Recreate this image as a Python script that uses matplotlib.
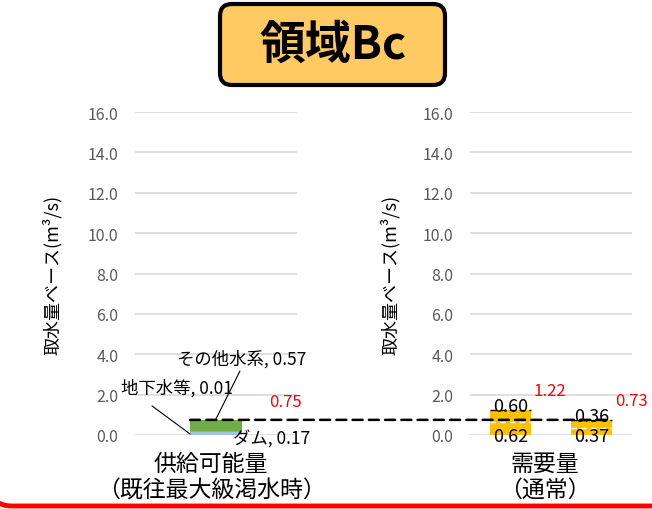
import matplotlib
matplotlib.use("Agg")
from matplotlib import pyplot as plt
from matplotlib.patches import FancyBboxPatch, ConnectionPatch

plt.rcParams["font.family"] = ["Noto Sans CJK JP", "DejaVu Sans"]

# data
supply_names = ["ダム", "地下水等", "その他水系"]
supply_values = [0.17, 0.01, 0.57]
supply_colors = ["#9DC3E6", "#A5A5A5", "#70AD47"]

demand_lower = [0.62, 0.37]
demand_upper = [0.60, 0.36]

y_ticks = [0, 2, 4, 6, 8, 10, 12, 14, 16]
y_label = "取水量ベース(m³/s)"
supply_category = "供給可能量\n（既往最大級渇水時）"
demand_category = "需要量\n（通常）"
title = "領域Bc"

W, H = 652, 510
fig = plt.figure(figsize=(W / 100, H / 100), dpi=100)


def px_axes(x0, y0, x1, y1):
    # pixel box (top-left origin) -> figure fraction axes
    return fig.add_axes([x0 / W, 1 - y1 / H, (x1 - x0) / W, (y1 - y0) / H])


def style_axis(ax):
    ax.set_ylim(0, 16)
    ax.set_yticks(y_ticks)
    ax.set_yticklabels([f"{v:.1f}" for v in y_ticks])
    ax.set_xticks([])
    ax.tick_params(axis="y", length=0, pad=12, labelsize=11.5, labelcolor="#595959")
    for s in ax.spines.values():
        s.set_visible(False)
    ax.grid(axis="y", color="#D9D9D9", linewidth=1.2)
    ax.set_axisbelow(True)
    ax.set_ylabel(y_label, fontsize=13)


ax1 = px_axes(135, 113, 297, 436)
ax2 = px_axes(470, 113, 632, 436)
style_axis(ax1)
style_axis(ax2)
ax1.yaxis.set_label_coords(-0.45, 0.5)
ax2.yaxis.set_label_coords(-0.43, 0.5)

# supply stacked bar
ax1.set_xlim(-0.5, 0.5)
bw1 = 0.32
bottom = 0
for v, c in zip(supply_values, supply_colors):
    ax1.bar(0, v, bw1, bottom=bottom, color=c, linewidth=0)
    bottom += v
supply_total = round(sum(supply_values), 2)
dam_top = supply_values[0]

# data labels with leader lines
leader = dict(arrowstyle="-", color="black", lw=0.8, shrinkA=0, shrinkB=0)
ax1.text(0.16, 3.8, f"{supply_names[2]}, {supply_values[2]:.2f}",
         ha="center", va="center", fontsize=12.5)
ax1.annotate("", xy=(0.0, supply_total + 0.05), xytext=(0.148, 3.17), arrowprops=leader)
ax1.text(-0.24, 2.35, f"{supply_names[1]}, {supply_values[1]:.2f}",
         ha="center", va="center", fontsize=12.5)
ax1.annotate("", xy=(-bw1 / 2, 0.05), xytext=(-0.395, 1.44), arrowprops=leader)
ax1.text(0.105, dam_top / 2 - 0.2, f"{supply_names[0]}, {supply_values[0]:.2f}",
         ha="left", va="center", fontsize=12.5)
ax1.annotate(f"{supply_total:.2f}", xy=(bw1 / 2, supply_total), xytext=(31, 13),
             textcoords="offset points", ha="center", va="center",
             fontsize=12, color="red")

# demand stacked bars
ax2.set_xlim(-0.5, 1.5)
bw2 = 0.5
xs = range(len(demand_lower))
ax2.bar(xs, demand_lower, bw2, color="#FFC000", linewidth=0)
ax2.bar(xs, demand_upper, bw2, bottom=demand_lower, color="#FFC000", linewidth=0)
for x, lo, up in zip(xs, demand_lower, demand_upper):
    total = round(lo + up, 2)
    ax2.hlines(lo, x - bw2 / 2, x + bw2 / 2, colors="white", linestyles=(0, (4, 3)), lw=1)
    ax2.hlines(total, x - bw2 / 2, x + bw2 / 2, colors="black", linestyles=(0, (4, 3)), lw=1)
    ax2.annotate(f"{up:.2f}", xy=(x, total), xytext=(0, 3), textcoords="offset points",
                 ha="center", va="center", fontsize=13)
    ax2.annotate(f"{lo:.2f}", xy=(x, 0), xytext=(0, -1), textcoords="offset points",
                 ha="center", va="center", fontsize=13)
    ax2.annotate(f"{total:.2f}", xy=(x + bw2 / 2, total), xytext=(14, 14),
                 textcoords="offset points", ha="center", va="center",
                 fontsize=12, color="red")

# dashed supply level across both panels
con = ConnectionPatch(xyA=(-bw1 / 2, supply_total), coordsA=ax1.transData,
                      xyB=(len(demand_lower) - 1 + bw2 / 2, supply_total), coordsB=ax2.transData,
                      color="black", lw=1.8, linestyle=(0, (4, 2.5)), zorder=5)
fig.add_artist(con)

# category labels
ax1.text(0.47, -0.128, supply_category, transform=ax1.transAxes, ha="center", va="center",
         fontsize=16.5, linespacing=1.2)
ax2.text(0.46, -0.128, demand_category, transform=ax2.transAxes, ha="center", va="center",
         fontsize=16.5, linespacing=1.2)

# decoration overlay (pixel coordinates)
ov = fig.add_axes([0, 0, 1, 1], zorder=10)
ov.set_xlim(0, W)
ov.set_ylim(H, 0)
ov.axis("off")
ov.patch.set_alpha(0)
ov.add_patch(FancyBboxPatch((220, 5), 225, 81, boxstyle="round,pad=0,rounding_size=12",
                            facecolor="#FFCA61", edgecolor="black", lw=3))
ov.text(333, 46, title, ha="center", va="center", fontsize=33, fontweight="bold")
ov.add_patch(FancyBboxPatch((-10, -100), 760, 607, boxstyle="round,pad=0,rounding_size=22",
                            facecolor="none", edgecolor="#FF0000", lw=3.5, clip_on=False))

fig.savefig("out.png", dpi=100)
